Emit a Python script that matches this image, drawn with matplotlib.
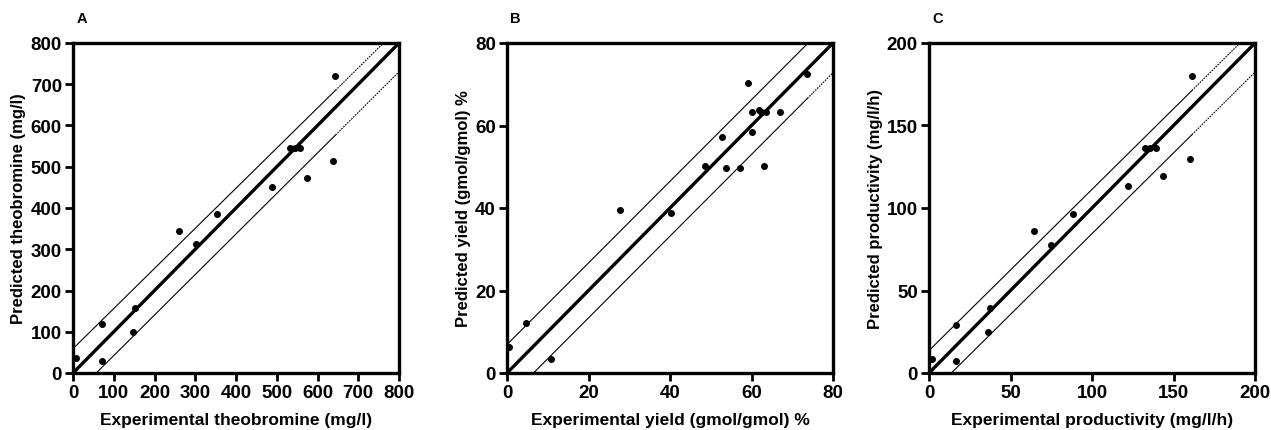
import numpy as np
import matplotlib
matplotlib.use("Agg")
import matplotlib.pyplot as plt

plt.rcParams["font.family"] = ["Liberation Sans", "DejaVu Sans"]
plt.rcParams["font.weight"] = "bold"

# Panel A: theobromine (mg/l)
theo_exp = [8, 70, 70, 148, 152, 259, 301, 354, 489, 532, 545, 557, 574, 639, 644]
theo_pred = [37, 118, 29, 99, 158, 344, 312, 385, 452, 546, 546, 546, 473, 515, 720]
theo_upper = ([0, 762], [59, 800])
theo_lower = ([57, 800], [0, 730])

# Panel B: yield (gmol/gmol) %
yield_exp = [0.5, 4.7, 10.7, 27.7, 40.2, 48.5, 52.8, 53.7, 57.1, 59.1, 60.1, 60.2,
             61.8, 62.3, 63.6, 63.0, 67.1, 73.7]
yield_pred = [6.2, 12.2, 3.4, 39.6, 38.7, 50.2, 57.3, 49.6, 49.8, 70.4, 63.2, 58.4,
              63.8, 63.3, 63.3, 50.2, 63.2, 72.4]
yield_upper = ([0, 73.9], [6.9, 80])
yield_lower = ([6.5, 80], [0, 72.8])

# Panel C: productivity (mg/l/h)
prod_exp = [2, 16.8, 16.8, 36.4, 37.7, 64.5, 74.9, 88.4, 122.2, 132.6, 135.5, 139.4,
            143.5, 159.9, 161.3]
prod_pred = [8.5, 28.9, 7.1, 24.7, 39.2, 85.8, 77.6, 96.3, 113.2, 136.2, 136.2, 136.2,
             119.5, 129.7, 180]
prod_upper = ([0, 190.8], [13.6, 200])
prod_lower = ([13.7, 200], [0, 182.3])

panels = [
    ("A", theo_exp, theo_pred, theo_upper, theo_lower, 800, 100,
     "Experimental theobromine (mg/l)", "Predicted theobromine (mg/l)"),
    ("B", yield_exp, yield_pred, yield_upper, yield_lower, 80, 20,
     "Experimental yield (gmol/gmol) %", "Predicted yield (gmol/gmol) %"),
    ("C", prod_exp, prod_pred, prod_upper, prod_lower, 200, 50,
     "Experimental productivity (mg/l/h)", "Predicted productivity (mg/l/h)"),
]
lefts = [73, 507, 929]


def draw_band(ax, band, x_solid_end):
    # solid over the data range, dotted where the band is extrapolated
    xs, ys = band
    slope = (ys[1] - ys[0]) / (xs[1] - xs[0])
    x_mid = min(max(x_solid_end, xs[0]), xs[1])
    y_mid = ys[0] + slope * (x_mid - xs[0])
    ax.plot([xs[0], x_mid], [ys[0], y_mid], color="black", lw=0.8, clip_on=False)
    ax.plot([x_mid, xs[1]], [y_mid, ys[1]], color="black", lw=0.8, ls=(0, (1.5, 1)),
            clip_on=False)


fig = plt.figure(figsize=(12.71, 4.31), dpi=100)
for (label, xs, ys, upper, lower, vmax, step, xlabel, ylabel), left in zip(panels, lefts):
    ax = fig.add_axes([left / 1271, 1 - 374 / 431, 326 / 1271, 330 / 431])
    ax.plot([0, vmax], [0, vmax], color="black", lw=2.4, solid_capstyle="butt")
    draw_band(ax, upper, max(xs))
    draw_band(ax, lower, max(xs))
    ax.scatter(xs, ys, s=16, color="black", zorder=3, clip_on=False)
    ax.set_xlim(0, vmax)
    ax.set_ylim(0, vmax)
    ticks = np.arange(0, vmax + step / 2, step)
    ax.set_xticks(ticks)
    ax.set_yticks(ticks)
    ax.tick_params(direction="out", length=6, width=2, labelsize=13.5, pad=2)
    for spine in ax.spines.values():
        spine.set_linewidth(2.4)
    ax.set_xlabel(xlabel, fontsize=12.5, fontweight="bold", labelpad=8)
    ax.set_ylabel(ylabel, fontsize=12, fontweight="bold", labelpad=3)
    ax.text(0.01, 1.055, label, transform=ax.transAxes, fontsize=10.5, fontweight="bold",
            ha="left", va="bottom")

fig.savefig("out.png", dpi=100)
